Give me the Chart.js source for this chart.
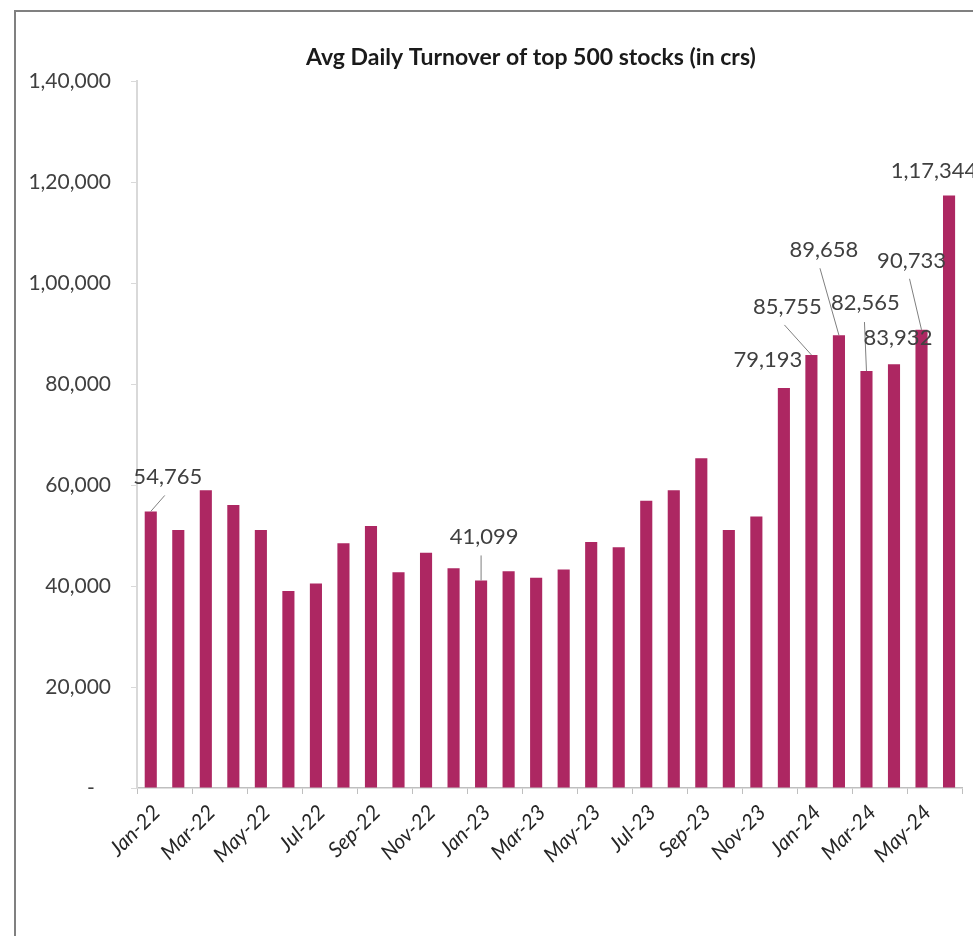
<!DOCTYPE html>
<html>
<head>
<meta charset="utf-8">
<script src="https://cdn.jsdelivr.net/npm/chart.js@4"></script>
<style>
  html, body { margin: 0; padding: 0; background: #fff; overflow: hidden; }
  #frame { position: absolute; left: 14px; top: 10px; width: 1200px; height: 1200px;
           border-left: 2px solid #808080; border-top: 2px solid #808080; }
  #turnover { position: absolute; left: 0; top: 0; }
</style>
</head>
<body>
<div id="frame"></div>
<canvas id="turnover" width="973" height="936"></canvas>
<script>
const months = ['Jan-22', 'Feb-22', 'Mar-22', 'Apr-22', 'May-22', 'Jun-22', 'Jul-22', 'Aug-22', 'Sep-22', 'Oct-22', 'Nov-22', 'Dec-22',
                'Jan-23', 'Feb-23', 'Mar-23', 'Apr-23', 'May-23', 'Jun-23', 'Jul-23', 'Aug-23', 'Sep-23', 'Oct-23', 'Nov-23', 'Dec-23',
                'Jan-24', 'Feb-24', 'Mar-24', 'Apr-24', 'May-24', 'Jun-24'];
const turnover = [54765, 51100, 58950, 56050, 51100, 39000, 40500, 48450, 51900, 42700, 46600, 43500,
                  41099, 42900, 41650, 43250, 48700, 47650, 56900, 58950, 65300, 51100, 53750, 79193,
                  85755, 89658, 82565, 83932, 90733, 117344];
const yTicks = [0, 20000, 40000, 60000, 80000, 100000, 120000, 140000];
const chartTitle = 'Avg Daily Turnover of top 500 stocks (in crs)';

// where the value callouts sit, relative to the top of their bar; line = start of leader line
const callouts = {
  0:  { dx: 17,  dy: -35, line: [14, -16] },
  12: { dx: 3,   dy: -44, line: [0, -25] },
  23: { dx: -16, dy: -28 },
  24: { dx: -24, dy: -48, line: [-27, -30] },
  25: { dx: -15, dy: -85, line: [-19, -67] },
  26: { dx: -1,  dy: -68, line: [-2, -49] },
  27: { dx: 4,   dy: -26 },
  28: { dx: -10, dy: -69, line: [-12, -51] },
  29: { dx: -15, dy: -25 }
};

// lakh style grouping: 1,17,344
function fmtIN(n) {
  const s = String(Math.round(n));
  if (s.length <= 3) return s;
  const head = s.slice(0, -3).replace(/\B(?=(\d{2})+(?!\d))/g, ',');
  return head + ',' + s.slice(-3);
}

const calloutPlugin = {
  id: 'callouts',
  afterDatasetsDraw(chart) {
    const ctx = chart.ctx;
    const meta = chart.getDatasetMeta(0);
    ctx.save();
    ctx.font = '22px Lato';
    ctx.fillStyle = '#404040';
    ctx.textAlign = 'center';
    ctx.textBaseline = 'middle';
    Object.keys(callouts).forEach(k => {
      const i = Number(k);
      const bar = meta.data[i];
      const c = callouts[k];
      if (c.line) {
        ctx.strokeStyle = '#7f7f7f';
        ctx.lineWidth = 1;
        ctx.beginPath();
        ctx.moveTo(bar.x + c.line[0], bar.y + c.line[1]);
        ctx.lineTo(bar.x, bar.y);
        ctx.stroke();
      }
      ctx.fillText(fmtIN(turnover[i]), bar.x + c.dx, bar.y + c.dy);
    });
    ctx.restore();
  }
};

const titlePlugin = {
  id: 'plainTitle',
  afterDraw(chart) {
    const ctx = chart.ctx;
    const a = chart.chartArea;
    ctx.save();
    ctx.font = 'bold 23px Lato';
    ctx.fillStyle = '#1a1a1a';
    ctx.textAlign = 'center';
    ctx.textBaseline = 'middle';
    ctx.fillText(chartTitle, a.left + a.width * 0.477, 58);
    ctx.restore();
  }
};

new Chart(document.getElementById('turnover'), {
  type: 'bar',
  data: {
    labels: months,
    datasets: [{
      label: 'Avg daily turnover',
      data: turnover,
      backgroundColor: '#AD2762',
      borderWidth: 0,
      categoryPercentage: 1,
      barPercentage: 0.44
    }]
  },
  options: {
    responsive: false,
    animation: false,
    layout: { padding: { top: 81, right: 8, left: 0, bottom: 0 } },
    plugins: { legend: { display: false }, tooltip: { enabled: false } },
    scales: {
      x: {
        grid: {
          offset: true,
          drawOnChartArea: false,
          tickLength: 6,
          color: c => ((c.index === undefined ? 0 : c.index) % 2 === 0 ? '#bfbfbf' : 'rgba(0,0,0,0)')
        },
        border: { color: '#bfbfbf', width: 1.5 },
        ticks: {
          autoSkip: false,
          maxRotation: 45,
          minRotation: 45,
          padding: 6,
          labelOffset: 6,
          color: '#262626',
          font: { family: 'Lato', size: 21, style: 'italic' },
          callback(v, i) { return i % 2 === 0 ? this.getLabelForValue(v) : ''; }
        },
        afterFit(s) { s.height = 148; }
      },
      y: {
        min: 0,
        max: 140000,
        afterBuildTicks(s) { s.ticks = yTicks.map(v => ({ value: v })); },
        grid: { drawOnChartArea: false, tickLength: 6, color: '#d9d9d9' },
        border: { color: '#d9d9d9', width: 2 },
        ticks: {
          padding: 20,
          color: '#404040',
          font: { family: 'Lato', size: 21 },
          callback: v => (v === 0 ? '-   ' : fmtIN(v))
        },
        afterFit(s) { s.width = 137; }
      }
    }
  },
  plugins: [calloutPlugin, titlePlugin]
});
</script>
</body>
</html>
